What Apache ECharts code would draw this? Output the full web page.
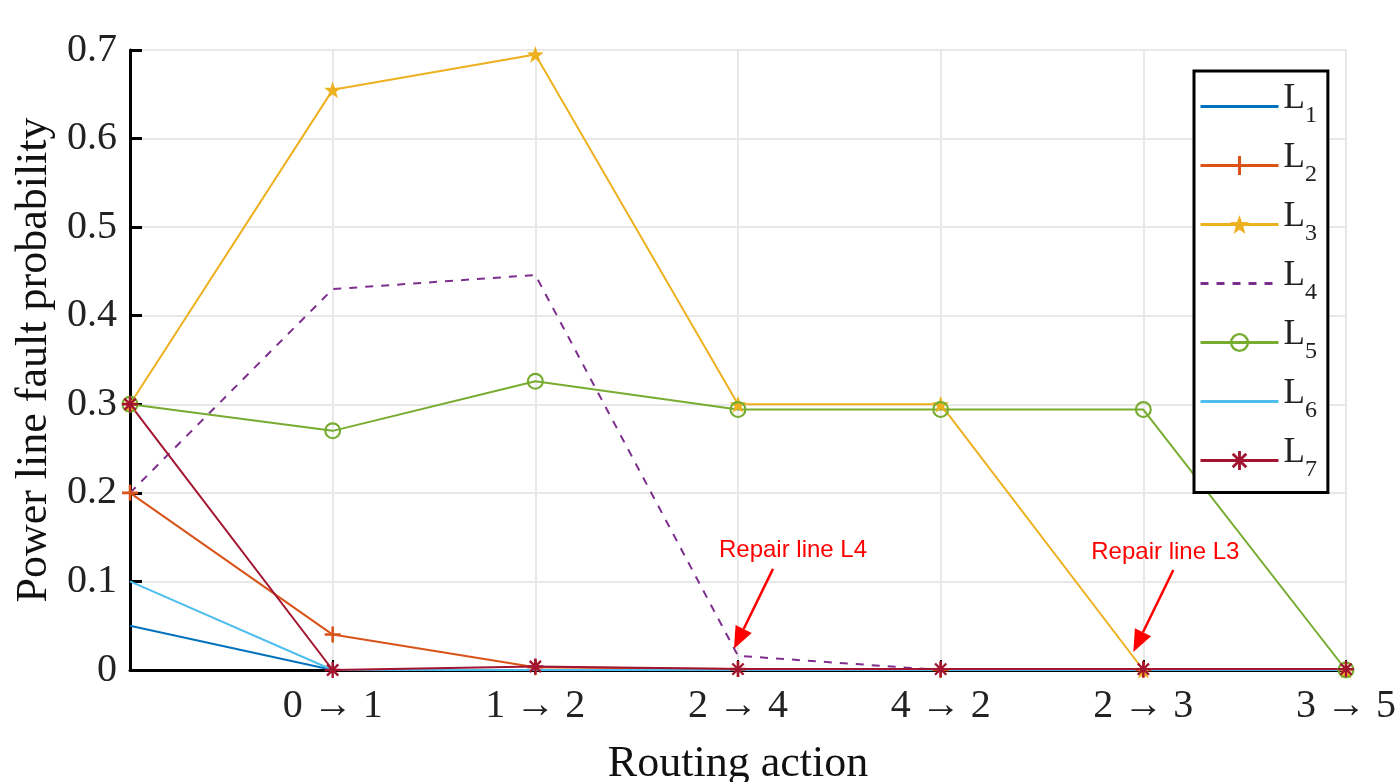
<!DOCTYPE html>
<html>
<head>
<meta charset="utf-8">
<script src="https://cdn.jsdelivr.net/npm/echarts@6/dist/echarts.min.js"></script>
<style>
  html, body { margin: 0; padding: 0; background: #fff; }
  #main { width: 1396px; height: 782px; }
</style>
</head>
<body>
<div id="main"></div>
<script>
var chartDom = document.getElementById('main');
var myChart = echarts.init(chartDom, null, { renderer: 'canvas' });

// routing actions (first slot is the initial state, no label)
const categories = ['', '0 \u2192 1', '1 \u2192 2', '2 \u2192 4', '4 \u2192 2', '2 \u2192 3', '3 \u2192 5'];
const yTickLabels = ['0', '0.1', '0.2', '0.3', '0.4', '0.5', '0.6', '0.7'];

const L1 = [0.05, 0, 0, 0, 0, 0, 0];
const L2 = [0.2, 0.04, 0.003, 0.001, 0, 0, 0];
const L3 = [0.3, 0.655, 0.695, 0.3, 0.3, 0, 0];
const L4 = [0.2, 0.43, 0.446, 0.016, 0, 0, 0];
const L5 = [0.3, 0.27, 0.326, 0.294, 0.294, 0.294, 0];
const L6 = [0.1, 0, 0, 0, 0, 0, 0];
const L7 = [0.3, 0, 0.004, 0.001, 0.001, 0.001, 0.001];

const serif = "'Liberation Serif', 'Times New Roman', serif";

const plusPath = 'path://M-1.6,-10H1.6V-1.6H10V1.6H1.6V10H-1.6V1.6H-10V-1.6H-1.6Z';
const asteriskPath = 'path://M-1.5,-10L1.5,-10L1.5,10L-1.5,10ZM-10,-1.5L10,-1.5L10,1.5L-10,1.5Z' +
    'M-8.1,-6L-6,-8.1L8.1,6L6,8.1ZM6,-8.1L8.1,-6L-6,8.1L-8.1,6Z';
const starPath = 'path://M0,-10L2.35,-3.24L9.51,-3.09L3.8,1.24L5.88,8.09L0,4L-5.88,8.09L-3.8,1.24L-9.51,-3.09L-2.35,-3.24Z';
const ringPath = 'path://M0,-10A10,10,0,1,1,0,10A10,10,0,1,1,0,-10ZM0,-7.5A7.5,7.5,0,1,0,0,7.5A7.5,7.5,0,1,0,0,-7.5Z';

function makeLine(name, data, color, symbol, size, dashed) {
    return {
        name: name,
        type: 'line',
        data: data,
        symbol: symbol || 'none',
        symbolSize: size || 0,
        showSymbol: !!symbol,
        clip: false,
        itemStyle: { color: color },
        lineStyle: { color: color, width: 2, type: dashed ? [8, 8] : 'solid' },
        emphasis: { disabled: true },
        z: 3
    };
}

const annotations = [
    { text: 'Repair line L4', cat: 3, value: L4[3], tipDx: -4, tipDy: -7, tailDx: 39, tailDy: -80, textDx: 20 },
    { text: 'Repair line L3', cat: 5, value: L3[5], tipDx: -10, tipDy: -18, tailDx: 40, tailDy: -82, textDx: -8 }
];

var option = {
    animation: false,
    backgroundColor: '#fff',
    grid: {
        left: 130, right: 50, top: 50, bottom: 112,
        outerBoundsMode: 'none',
        containLabel: false,
        show: true, borderColor: '#e4e4e4', borderWidth: 2
    },
    legend: {
        orient: 'vertical',
        left: 1194,
        top: 71,
        padding: [10, 11, 11, 5],
        itemWidth: 78,
        itemHeight: 24,
        itemGap: 12.5,
        borderColor: '#000',
        borderWidth: 3,
        backgroundColor: '#fff',
        lineStyle: { width: 3 },
        data: [
            { name: 'L1', itemStyle: { opacity: 0 } },
            'L2',
            'L3',
            { name: 'L4', itemStyle: { opacity: 0 } },
            'L5',
            { name: 'L6', itemStyle: { opacity: 0 } },
            'L7'
        ],
        formatter: function (name) {
            return '{a|L}{b|' + name.slice(1) + '}';
        },
        textStyle: {
            rich: {
                a: { fontFamily: serif, fontSize: 35, color: '#222', padding: [0, 0, 16, 0] },
                b: { fontFamily: serif, fontSize: 24, color: '#222', padding: [18, 0, 0, 0] }
            }
        }
    },
    xAxis: {
        type: 'category',
        data: categories,
        boundaryGap: false,
        name: 'Routing action',
        nameLocation: 'middle',
        nameGap: 72,
        nameTextStyle: { fontFamily: serif, fontSize: 44, color: '#111' },
        axisLine: { show: true, lineStyle: { color: '#000', width: 3 } },
        axisTick: { show: true, inside: true, length: 10, lineStyle: { color: '#000', width: 2 } },
        axisLabel: { fontFamily: serif, fontSize: 40, color: '#222', margin: 16, interval: 0 },
        splitLine: { show: true, lineStyle: { color: '#e8e8e8', width: 2 } }
    },
    yAxis: {
        type: 'value',
        min: 0,
        max: 0.7,
        interval: 0.1,
        name: 'Power line fault probability',
        nameLocation: 'middle',
        nameGap: 74,
        nameTextStyle: { fontFamily: serif, fontSize: 44, color: '#111' },
        axisLine: { show: true, lineStyle: { color: '#000', width: 3 } },
        axisTick: { show: true, inside: true, length: 12, lineStyle: { color: '#000', width: 3 } },
        axisLabel: {
            fontFamily: serif, fontSize: 40, color: '#222', margin: 13,
            formatter: function (v) { return yTickLabels[Math.round(v * 10)]; }
        },
        splitLine: { show: true, lineStyle: { color: '#e8e8e8', width: 2 } }
    },
    series: [
        makeLine('L1', L1, '#0072BD'),
        makeLine('L2', L2, '#D95319', plusPath, 16),
        makeLine('L3', L3, '#EDB120', starPath, 17),
        makeLine('L4', L4, '#7E2F8E', null, 0, true),
        makeLine('L5', L5, '#77AC30', ringPath, 17),
        makeLine('L6', L6, '#4DBEEE'),
        makeLine('L7', L7, '#A2142F', asteriskPath, 16)
    ]
};
option && myChart.setOption(option);

// red "Repair line" notes with arrows, anchored on the data points
const graphics = [];
annotations.forEach(function (a) {
    const p = myChart.convertToPixel({ gridIndex: 0 }, [a.cat, a.value]);
    const tip = [p[0] + a.tipDx, p[1] + a.tipDy];
    const tail = [tip[0] + a.tailDx, tip[1] + a.tailDy];
    const len = Math.hypot(tail[0] - tip[0], tail[1] - tip[1]);
    const ux = (tail[0] - tip[0]) / len, uy = (tail[1] - tip[1]) / len;
    const headLen = 22, headHalf = 9;
    const base = [tip[0] + ux * headLen, tip[1] + uy * headLen];
    graphics.push({
        type: 'line',
        shape: { x1: tail[0], y1: tail[1], x2: base[0], y2: base[1] },
        style: { stroke: '#ff0000', lineWidth: 2.5 },
        z: 10
    });
    graphics.push({
        type: 'polygon',
        shape: { points: [tip, [base[0] - uy * headHalf, base[1] + ux * headHalf], [base[0] + uy * headHalf, base[1] - ux * headHalf]] },
        style: { fill: '#ff0000' },
        z: 10
    });
    graphics.push({
        type: 'text',
        x: tail[0] + a.textDx,
        y: tail[1] - 18,
        style: {
            text: a.text,
            fill: '#ff0000',
            font: "24px 'Liberation Sans', Arial, sans-serif",
            align: 'center',
            verticalAlign: 'middle'
        },
        z: 10
    });
});
myChart.setOption({ graphic: graphics });
</script>
</body>
</html>
